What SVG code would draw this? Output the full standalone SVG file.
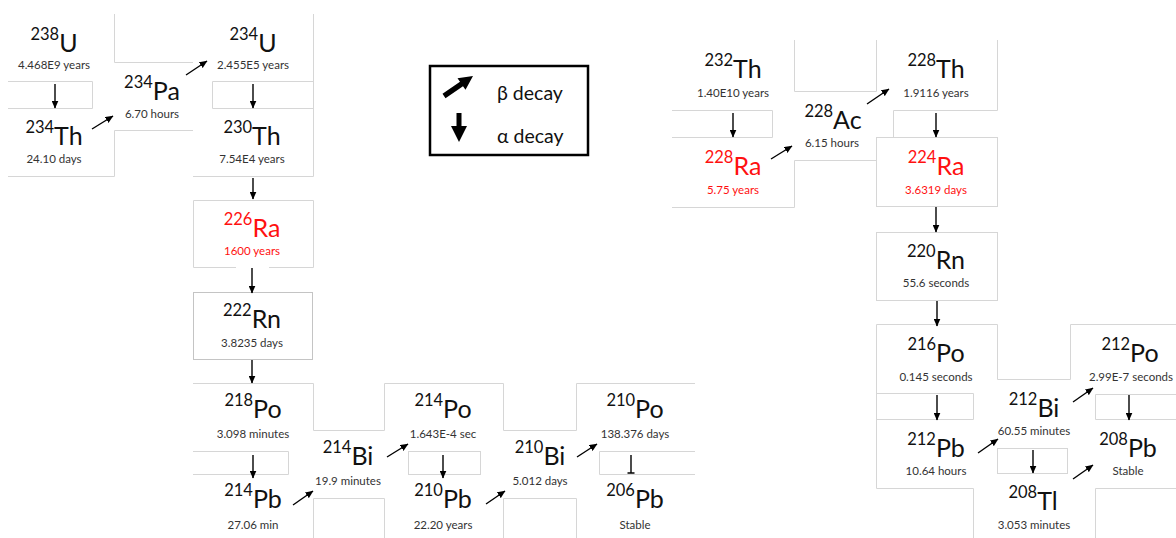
<svg xmlns="http://www.w3.org/2000/svg" width="1176" height="538" viewBox="0 0 1176 538">
  <style>
    .bd { fill: none; stroke: #d6d6d6; stroke-width: 1; }
    .bd2 { fill: none; stroke: #c4c4c4; stroke-width: 1; }
    .t { font-family: Lato, "Liberation Sans", sans-serif; text-anchor: middle; fill: #111; }
    .sym { font-size: 25px; }
    .sup { font-size: 16.5px; }
    .hl { font-family: Lato, "Liberation Sans", sans-serif; text-anchor: middle; font-size: 11.5px; fill: #333; }
    .red { fill: #ff1010; }
    .cn line { stroke: #000; stroke-width: 1.4; marker-end: url(#ah); }
    .lg { font-family: Lato, "Liberation Sans", sans-serif; font-size: 19.5px; fill: #111; }
  </style>
  <defs>
    <marker id="ah" markerUnits="userSpaceOnUse" markerWidth="8" markerHeight="7" refX="7.5" refY="3.5" orient="auto">
      <path d="M0,0 L8,3.5 L0,7 z" fill="#000"/>
    </marker>
  </defs>
  <rect width="1176" height="538" fill="#fff"/>

  <!-- U-238 series -->
  <g id="n-U238">
    <path class="bd" d="M8,81.5 H92.5 V108.5 H8"/>
    <path class="bd" d="M114.5,14 V62.5 H193"/>
    <text class="t" x="54" y="52"><tspan class="sup" dy="-12">238</tspan><tspan class="sym" dy="12">U</tspan></text>
    <text class="hl" x="54" y="69">4.468E9 years</text>
  </g>
  <g id="n-Th234">
    <path class="bd" d="M8,176.5 H114.5 V130.5 H193"/>
    <text class="t" x="54" y="145"><tspan class="sup" dy="-12.5">234</tspan><tspan class="sym" dy="12.5">Th</tspan></text>
    <text class="hl" x="54" y="163">24.10 days</text>
  </g>
  <g id="n-Pa234">
    <text class="t" x="152" y="100"><tspan class="sup" dy="-12.5">234</tspan><tspan class="sym" dy="12.5">Pa</tspan></text>
    <text class="hl" x="152" y="118">6.70 hours</text>
  </g>
  <g id="n-U234">
    <path class="bd" d="M313.5,14 V81.5"/>
    <path class="bd" d="M313,81.5 H212.5 V108.5 H313"/>
    <text class="t" x="253" y="52"><tspan class="sup" dy="-12">234</tspan><tspan class="sym" dy="12">U</tspan></text>
    <text class="hl" x="253" y="69">2.455E5 years</text>
  </g>
  <g id="n-Th230">
    <path class="bd" d="M313.5,81 V176.5 H193"/>
    <text class="t" x="252" y="145"><tspan class="sup" dy="-12.5">230</tspan><tspan class="sym" dy="12.5">Th</tspan></text>
    <text class="hl" x="252" y="163">7.54E4 years</text>
  </g>
  <g id="n-Ra226">
    <path class="bd" d="M236,267.5 H193.5 V200.5 H313.5 V267.5 H269"/>
    <text class="t red" x="252" y="237"><tspan class="sup" dy="-12.5">226</tspan><tspan class="sym" dy="12.5">Ra</tspan></text>
    <text class="hl red" x="252" y="255">1600 years</text>
  </g>
  <g id="n-Rn222">
    <rect class="bd2" x="193.5" y="292.5" width="119" height="67"/>
    <text class="t" x="252" y="328"><tspan class="sup" dy="-12.5">222</tspan><tspan class="sym" dy="12.5">Rn</tspan></text>
    <text class="hl" x="252" y="347">3.8235 days</text>
  </g>
  <g id="n-Po218">
    <path class="bd" d="M193,383.5 H313.5 V430.5 H384.5 V383.5"/>
    <path class="bd" d="M193,451.5 H288.5 V474.5 H193"/>
    <text class="t" x="253" y="418"><tspan class="sup" dy="-12.5">218</tspan><tspan class="sym" dy="12.5">Po</tspan></text>
    <text class="hl" x="253" y="438">3.098 minutes</text>
  </g>
  <g id="n-Pb214">
    <text class="t" x="253" y="508"><tspan class="sup" dy="-12.5">214</tspan><tspan class="sym" dy="12.5">Pb</tspan></text>
    <text class="hl" x="253" y="529">27.06 min</text>
  </g>
  <g id="n-Bi214">
    <path class="bd" d="M313.5,538 V498.5 H384.5 V538"/>
    <text class="t" x="348" y="465"><tspan class="sup" dy="-12.5">214</tspan><tspan class="sym" dy="12.5">Bi</tspan></text>
    <text class="hl" x="348" y="485">19.9 minutes</text>
  </g>
  <g id="n-Po214">
    <path class="bd" d="M384.5,383.5 H503.5 V430.5 H576.5 V383.5"/>
    <rect class="bd" x="408.5" y="451.5" width="72" height="23"/>
    <text class="t" x="443" y="418"><tspan class="sup" dy="-12.5">214</tspan><tspan class="sym" dy="12.5">Po</tspan></text>
    <text class="hl" x="443" y="438">1.643E-4 sec</text>
  </g>
  <g id="n-Pb210">
    <text class="t" x="443" y="508"><tspan class="sup" dy="-12.5">210</tspan><tspan class="sym" dy="12.5">Pb</tspan></text>
    <text class="hl" x="443" y="529">22.20 years</text>
  </g>
  <g id="n-Bi210">
    <path class="bd" d="M503.5,538 V498.5 H576.5 V538"/>
    <text class="t" x="540" y="465"><tspan class="sup" dy="-12.5">210</tspan><tspan class="sym" dy="12.5">Bi</tspan></text>
    <text class="hl" x="540" y="485">5.012 days</text>
  </g>
  <g id="n-Po210">
    <path class="bd" d="M576.5,383.5 H695"/>
    <path class="bd" d="M695,451.5 H599.5 V474.5 H695"/>
    <text class="t" x="635" y="418"><tspan class="sup" dy="-12.5">210</tspan><tspan class="sym" dy="12.5">Po</tspan></text>
    <text class="hl" x="635" y="438">138.376 days</text>
  </g>
  <g id="n-Pb206">
    <text class="t" x="635" y="508"><tspan class="sup" dy="-12.5">206</tspan><tspan class="sym" dy="12.5">Pb</tspan></text>
    <text class="hl" x="635" y="529">Stable</text>
  </g>

  <!-- Th-232 series -->
  <g id="n-Th232">
    <path class="bd" d="M794.5,40 V91.5"/>
    <path class="bd" d="M672,110.5 H772.5 V137.5 H672"/>
    <text class="t" x="733" y="78"><tspan class="sup" dy="-12.5">232</tspan><tspan class="sym" dy="12.5">Th</tspan></text>
    <text class="hl" x="733" y="97">1.40E10 years</text>
  </g>
  <g id="n-Ra228">
    <path class="bd" d="M672,207.5 H794.5 V160.5"/>
    <text class="t red" x="733" y="175"><tspan class="sup" dy="-12.5">228</tspan><tspan class="sym" dy="12.5">Ra</tspan></text>
    <text class="hl red" x="733" y="194">5.75 years</text>
  </g>
  <g id="n-Ac228">
    <path class="bd" d="M794.5,91.5 H876.5 V40"/>
    <path class="bd" d="M794.5,160.5 H876"/>
    <text class="t" x="833" y="129"><tspan class="sup" dy="-12.5">228</tspan><tspan class="sym" dy="12.5">Ac</tspan></text>
    <text class="hl" x="832" y="147">6.15 hours</text>
  </g>
  <g id="n-Th228">
    <path class="bd" d="M997.5,40 V110.5 H893.5 V137"/>
    <text class="t" x="936" y="78"><tspan class="sup" dy="-12.5">228</tspan><tspan class="sym" dy="12.5">Th</tspan></text>
    <text class="hl" x="936" y="97">1.9116 years</text>
  </g>
  <g id="n-Ra224">
    <rect class="bd" x="876.5" y="137.5" width="121" height="69"/>
    <text class="t red" x="936" y="175"><tspan class="sup" dy="-12.5">224</tspan><tspan class="sym" dy="12.5">Ra</tspan></text>
    <text class="hl red" x="936" y="194">3.6319 days</text>
  </g>
  <g id="n-Rn220">
    <rect class="bd" x="876.5" y="232.5" width="121" height="68"/>
    <text class="t" x="936" y="269"><tspan class="sup" dy="-12.5">220</tspan><tspan class="sym" dy="12.5">Rn</tspan></text>
    <text class="hl" x="936" y="287">55.6 seconds</text>
  </g>
  <g id="n-Po216">
    <path class="bd" d="M876.5,393.5 V324.5 H997.5 V379.5 H1070.5 V324.5"/>
    <path class="bd" d="M876.5,393.5 H973.5 V419.5 H876.5"/>
    <text class="t" x="936" y="362"><tspan class="sup" dy="-12.5">216</tspan><tspan class="sym" dy="12.5">Po</tspan></text>
    <text class="hl" x="936" y="381">0.145 seconds</text>
  </g>
  <g id="n-Pb212">
    <path class="bd" d="M876.5,393 V488.5 H973.5 V538"/>
    <text class="t" x="936" y="457"><tspan class="sup" dy="-12.5">212</tspan><tspan class="sym" dy="12.5">Pb</tspan></text>
    <text class="hl" x="936" y="475">10.64 hours</text>
  </g>
  <g id="n-Bi212">
    <rect class="bd" x="997.5" y="448.5" width="70" height="25"/>
    <text class="t" x="1034" y="417"><tspan class="sup" dy="-12.5">212</tspan><tspan class="sym" dy="12.5">Bi</tspan></text>
    <text class="hl" x="1034" y="435">60.55 minutes</text>
  </g>
  <g id="n-Po212">
    <path class="bd" d="M1070.5,324.5 H1176"/>
    <path class="bd" d="M1176,394.5 H1095.5 V419.5 H1176"/>
    <text class="t" x="1130" y="362"><tspan class="sup" dy="-12.5">212</tspan><tspan class="sym" dy="12.5">Po</tspan></text>
    <text class="hl" x="1131" y="381">2.99E-7 seconds</text>
  </g>
  <g id="n-Pb208">
    <path class="bd" d="M1176,488.5 H1095.5 V538"/>
    <text class="t" x="1128" y="457"><tspan class="sup" dy="-12.5">208</tspan><tspan class="sym" dy="12.5">Pb</tspan></text>
    <text class="hl" x="1128" y="475">Stable</text>
  </g>
  <g id="n-Tl208">
    <text class="t" x="1033" y="510"><tspan class="sup" dy="-12.5">208</tspan><tspan class="sym" dy="12.5">Tl</tspan></text>
    <text class="hl" x="1034" y="529">3.053 minutes</text>
  </g>

  <!-- decay arrows -->
  <g id="connectors" class="cn">
    <line x1="55" y1="84" x2="55" y2="108"/>
    <line x1="92" y1="129" x2="113" y2="116"/>
    <line x1="186" y1="75" x2="207" y2="61"/>
    <line x1="253" y1="84" x2="253" y2="108"/>
    <line x1="253" y1="178" x2="253" y2="199"/>
    <line x1="252" y1="268" x2="252" y2="293"/>
    <line x1="252" y1="360" x2="252" y2="383"/>
    <line x1="253" y1="455" x2="253" y2="478"/>
    <line x1="293" y1="505" x2="313" y2="491"/>
    <line x1="387" y1="457" x2="408" y2="444"/>
    <line x1="443" y1="455" x2="443" y2="478"/>
    <line x1="486" y1="504" x2="505" y2="491"/>
    <line x1="577" y1="457" x2="597" y2="444"/>
    <path d="M631,455 V473 M627.5,473 H634.5" fill="none" stroke="#000" stroke-width="1.4"/>

    <line x1="733" y1="113" x2="733" y2="137"/>
    <line x1="771" y1="159" x2="792" y2="146"/>
    <line x1="867" y1="104" x2="889" y2="89"/>
    <line x1="936" y1="113" x2="936" y2="137"/>
    <line x1="936" y1="207" x2="936" y2="232"/>
    <line x1="937" y1="301" x2="937" y2="326"/>
    <line x1="937" y1="395" x2="937" y2="420"/>
    <line x1="978" y1="453" x2="998" y2="439"/>
    <line x1="1073" y1="402" x2="1093" y2="388"/>
    <line x1="1129" y1="395" x2="1129" y2="420"/>
    <line x1="1033" y1="450" x2="1033" y2="473"/>
    <line x1="1073" y1="479" x2="1093" y2="465"/>
  </g>

  <!-- legend -->
  <g id="legend">
    <rect x="430" y="66" width="158" height="89" fill="#fff" stroke="#000" stroke-width="2.5"/>
    <polygon points="442.5,93.8 460,81.8 457.5,78.2 473,76 465.5,89.8 463,86.2 445.5,98.2" fill="#000"/>
    <polygon points="456.5,113 461.5,113 461.5,126 467,126 459,142 451,126 456.5,126" fill="#000"/>
    <text class="lg" x="497" y="100">β decay</text>
    <text class="lg" x="497" y="143">α decay</text>
  </g>
</svg>
